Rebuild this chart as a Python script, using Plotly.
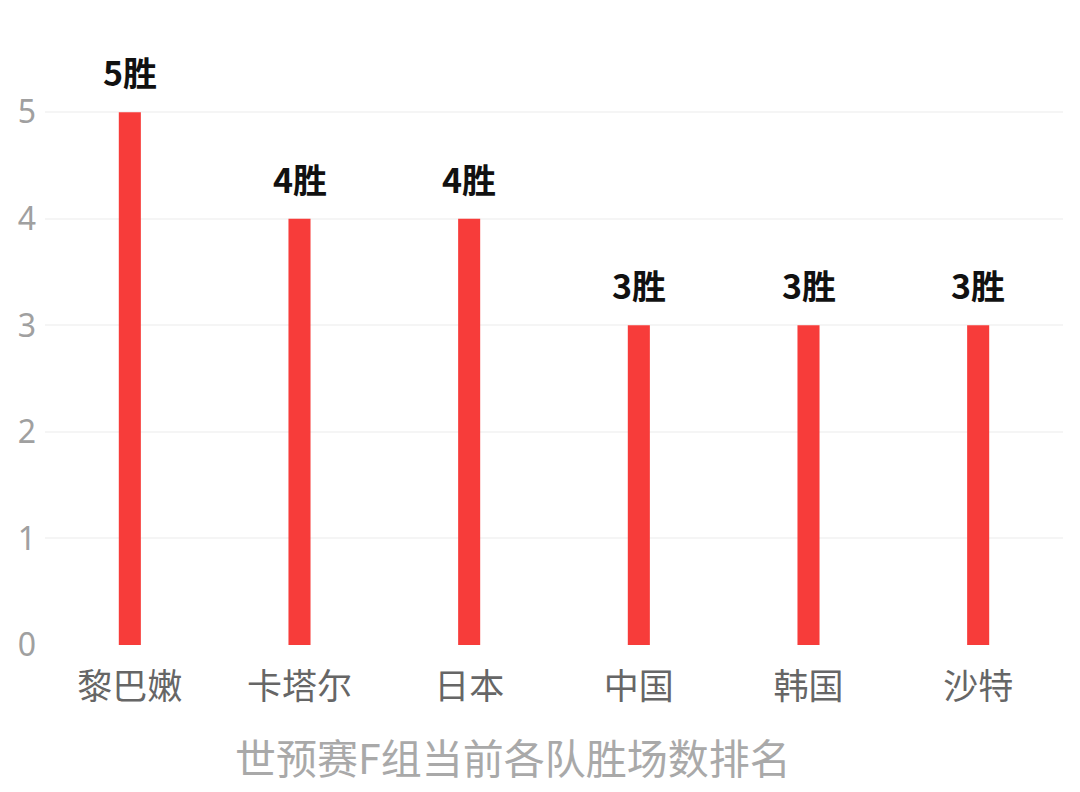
import plotly.graph_objects as go

teams = ["黎巴嫩", "卡塔尔", "日本", "中国", "韩国", "沙特"]
wins = [5, 4, 4, 3, 3, 3]
win_labels = ["5胜", "4胜", "4胜", "3胜", "3胜", "3胜"]
y_ticks = [0, 1, 2, 3, 4, 5]

title_text = "世预赛F组当前各队胜场数排名"
font_cn = "Noto Sans CJK SC"

fig = go.Figure()
fig.add_trace(go.Bar(
    x=teams,
    y=wins,
    marker=dict(color="#f73c3a", line=dict(width=0)),
    hoverinfo="x+y",
))

# value labels above bars
for team, w, lab in zip(teams, wins, win_labels):
    fig.add_annotation(
        x=team, y=w, text="<b>" + lab + "</b>",
        showarrow=False, yanchor="bottom", yshift=14,
        font=dict(family=font_cn, size=34, color="#111111"),
    )

fig.add_annotation(
    x=0.46, y=-0.19, xref="paper", yref="paper",
    text=title_text, showarrow=False, yanchor="middle",
    font=dict(family=font_cn, size=41, color="#a9a9a9"),
)

# page body has an 8px margin, so margins are shifted a bit
fig.update_layout(
    width=1080,
    height=792,
    paper_bgcolor="white",
    plot_bgcolor="white",
    margin=dict(l=37, r=25, t=51, b=155),
    bargap=0.87,
    showlegend=False,
    font=dict(family=font_cn),
)
fig.update_xaxes(
    showline=False, showgrid=False, ticks="", automargin=False,
    tickfont=dict(family=font_cn, size=35, color="#666666"),
    ticklabelstandoff=18,
)
fig.update_yaxes(
    range=[0, 5.5],
    tickvals=y_ticks,
    showline=False, zeroline=False, automargin=False,
    showgrid=True, gridcolor="#f5f5f5", gridwidth=2,
    tickfont=dict(family="Noto Sans", size=32, color="#a0a0a0"),
    ticklabelstandoff=8,
)

fig.write_html("out.html")
